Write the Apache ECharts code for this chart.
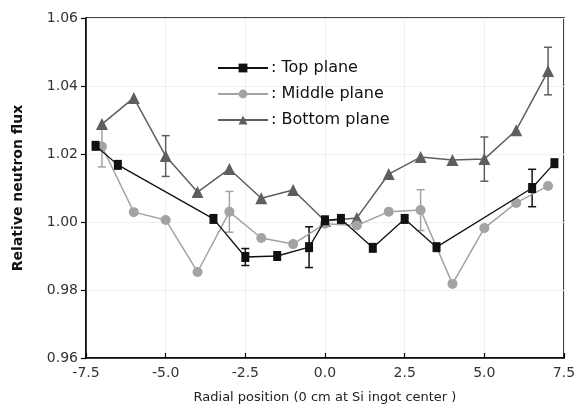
<!DOCTYPE html>
<html>
<head>
<meta charset="utf-8">
<script src="https://cdn.jsdelivr.net/npm/echarts@6/dist/echarts.min.js"></script>
<style>html,body{margin:0;padding:0;background:#fff;}#c{width:583px;height:410px;}</style>
</head>
<body>
<div id="c"></div>
<script>
// Data
var topX    = [-7.2, -6.5, -3.5, -2.5, -1.5, -0.5, 0.0, 0.5, 1.5, 2.5, 3.5, 6.5, 7.2];
var topY    = [1.0224, 1.0168, 1.0009, 0.9897, 0.9900, 0.9926, 1.0005, 1.0009, 0.9924, 1.0009, 0.9926, 1.0100, 1.0173];
var midX    = [-7.0, -6.0, -5.0, -4.0, -3.0, -2.0, -1.0, 0.0, 1.0, 2.0, 3.0, 4.0, 5.0, 6.0, 7.0];
var midY    = [1.0222, 1.0029, 1.0006, 0.9853, 1.0030, 0.9953, 0.9935, 0.9995, 0.9990, 1.0030, 1.0035, 0.9818, 0.9982, 1.0056, 1.0106];
var botX    = [-7.0, -6.0, -5.0, -4.0, -3.0, -2.0, -1.0, 0.0, 1.0, 2.0, 3.0, 4.0, 5.0, 6.0, 7.0];
var botY    = [1.0288, 1.0365, 1.0194, 1.0088, 1.0156, 1.0070, 1.0094, 1.0003, 1.0012, 1.0141, 1.0191, 1.0182, 1.0185, 1.0270, 1.0444];
// error bars: x, value, half-width
var topErr  = [[-2.5, 0.9897, 0.0025], [-0.5, 0.9926, 0.006], [6.5, 1.0100, 0.0055]];
var midErr  = [[-7.0, 1.0222, 0.006], [-3.0, 1.0030, 0.006], [3.0, 1.0035, 0.006]];
var botErr  = [[-5.0, 1.0194, 0.006], [5.0, 1.0185, 0.0065], [7.0, 1.0444, 0.007]];
var seriesNames = ['Top plane', 'Middle plane', 'Bottom plane'];
var xTicks = {min: -7.5, max: 7.5, step: 2.5};
var yTicks = {min: 0.96, max: 1.06, step: 0.02};

var colTop = '#111111', colMid = '#a3a3a3', colBot = '#5e5e5e';
function pairs(xs, ys){ return xs.map(function(x,i){ return [x, ys[i]]; }); }
function errData(arr){ return arr.map(function(e){ return [e[0], e[1]-e[2], e[1]+e[2]]; }); }
function errSeries(arr, color){
  return {
    type: 'custom', silent: true, z: 1,
    data: errData(arr),
    encode: {x: 0, y: [1, 2]},
    renderItem: function(params, api){
      var x = api.value(0);
      var lo = api.coord([x, api.value(1)]);
      var hi = api.coord([x, api.value(2)]);
      var w = 4;
      var st = {stroke: color, lineWidth: 1.5};
      return {type: 'group', children: [
        {type: 'line', shape: {x1: lo[0], y1: lo[1], x2: hi[0], y2: hi[1]}, style: st},
        {type: 'line', shape: {x1: lo[0]-w, y1: lo[1], x2: lo[0]+w, y2: lo[1]}, style: st},
        {type: 'line', shape: {x1: hi[0]-w, y1: hi[1], x2: hi[0]+w, y2: hi[1]}, style: st}
      ]};
    }
  };
}

var chart = echarts.init(document.getElementById('c'));
chart.setOption({
  backgroundColor: '#ffffff',
  animation: false,
  grid: {left: 86, right: 19, top: 18, bottom: 52, show: true, borderColor: '#000', borderWidth: 1.5},
  legend: {
    orient: 'vertical', left: 212, top: 55,
    itemWidth: 50, itemHeight: 11, itemGap: 10,
    data: seriesNames,
    formatter: function(n){ return ': ' + n; },
    textStyle: {fontFamily: 'DejaVu Sans', fontSize: 16, lineHeight: 16, color: '#111', padding: [0,0,0,-2]}
  },
  xAxis: {
    type: 'value', min: xTicks.min, max: xTicks.max, interval: xTicks.step,
    name: 'Radial position (0 cm at Si ingot center )',
    nameLocation: 'middle', nameGap: 33,
    nameTextStyle: {fontFamily: 'DejaVu Sans', fontSize: 13, color: '#222'},
    axisLine: {onZero: false, lineStyle: {color: '#000', width: 1.5}},
    axisTick: {inside: true, length: 5, lineStyle: {color: '#000', width: 1.2}},
    axisLabel: {fontFamily: 'DejaVu Sans', fontSize: 14, color: '#333', margin: 8,
      formatter: function(v){ return v.toFixed(1); }},
    splitLine: {show: true, lineStyle: {color: '#efefef', width: 1}}
  },
  yAxis: {
    type: 'value', min: yTicks.min, max: yTicks.max, interval: yTicks.step,
    name: 'Relative neutron flux',
    nameLocation: 'middle', nameGap: 61,
    nameTextStyle: {fontFamily: 'DejaVu Sans', fontSize: 14, fontWeight: 'bold', color: '#111'},
    axisLine: {onZero: false, lineStyle: {color: '#000', width: 1.5}},
    axisTick: {inside: false, length: 5, lineStyle: {color: '#000', width: 1.2}},
    axisLabel: {fontFamily: 'DejaVu Sans', fontSize: 14, color: '#333', margin: 8,
      formatter: function(v){ return v.toFixed(2); }},
    splitLine: {show: true, lineStyle: {color: '#efefef', width: 1}}
  },
  series: [
    errSeries(topErr, colTop),
    errSeries(midErr, colMid),
    errSeries(botErr, colBot),
    {name: seriesNames[0], type: 'line', data: pairs(topX, topY), z: 4,
      symbol: 'rect', symbolSize: [8, 10], itemStyle: {color: colTop},
      lineStyle: {color: colTop, width: 1.3}},
    {name: seriesNames[1], type: 'line', data: pairs(midX, midY), z: 3,
      symbol: 'circle', symbolSize: 10, itemStyle: {color: colMid},
      lineStyle: {color: colMid, width: 1.5}},
    {name: seriesNames[2], type: 'line', data: pairs(botX, botY), z: 2,
      symbol: 'triangle', symbolSize: 12, itemStyle: {color: colBot},
      lineStyle: {color: colBot, width: 1.5}}
  ]
});
</script>
</body>
</html>
